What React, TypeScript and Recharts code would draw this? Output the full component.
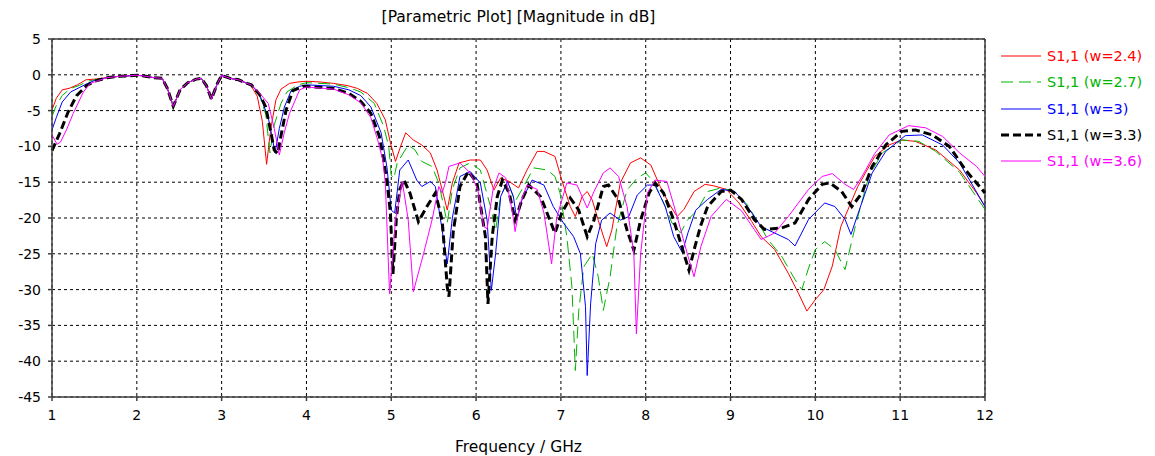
import React from "react";
import { LineChart, Line, XAxis, YAxis, CartesianGrid, ReferenceLine } from "recharts";

type Pt = [number, number];

// frequency (GHz), |S11| (dB)
const startW24: Pt[] = [[1, -4.9], [1.05, -3.3], [1.12, -2.1], [1.2, -1.9], [1.3, -1.4], [1.4, -0.7], [1.5, -0.6]];
const startW27: Pt[] = [[1, -5.8], [1.05, -4.3], [1.12, -2.9], [1.22, -1.9], [1.32, -1.5], [1.42, -0.9], [1.5, -0.7]];
const startW30: Pt[] = [[1, -7.7], [1.05, -6.0], [1.12, -3.8], [1.22, -2.4], [1.32, -1.8], [1.42, -1.2], [1.5, -0.8]];
const startW33: Pt[] = [[1, -10.6], [1.09, -8.2], [1.19, -5.2], [1.29, -2.9], [1.41, -1.5], [1.5, -0.9]];
const startW36: Pt[] = [[1, -8.4], [1.06, -9.7], [1.1, -9.4], [1.17, -7.7], [1.25, -5.4], [1.37, -2.4], [1.45, -1.2], [1.55, -0.8]];

// all five curves overlap here
const common: Pt[] = [
  [1.65, -0.4], [1.8, -0.2], [1.9, -0.15], [2.0, -0.05], [2.1, -0.2], [2.2, -0.4], [2.3, -0.5],
  [2.36, -1.9], [2.43, -4.4], [2.51, -2.1], [2.6, -1.1], [2.7, -0.6], [2.76, -0.5], [2.82, -1.5],
  [2.88, -3.4], [2.95, -1.2], [3.0, -0.1], [3.1, -0.5], [3.2, -0.7], [3.3, -1.2],
];

const tailW24: Pt[] = [
  [3.35, -1.6], [3.42, -3.0], [3.48, -6.5], [3.53, -12.5], [3.58, -7.5], [3.64, -3.5], [3.7, -2.0], [3.8, -1.2], [3.9, -1.0], [4.0, -0.9],
  [4.16, -1.0], [4.32, -1.2], [4.48, -1.5], [4.6, -1.9], [4.72, -2.6], [4.83, -4.0], [4.93, -6.3], [4.99, -9.5], [5.05, -12.1], [5.11, -10.0],
  [5.17, -8.1], [5.26, -9.1], [5.36, -9.8], [5.46, -10.9], [5.54, -13.3], [5.62, -17], [5.66, -18.9], [5.72, -15.1], [5.8, -12.3], [5.93, -11.9],
  [6.05, -11.9], [6.13, -13.3], [6.21, -16.1], [6.29, -14.4], [6.39, -14.9], [6.5, -15.8], [6.6, -13.3], [6.72, -10.7], [6.8, -10.7], [6.93, -11.4],
  [7.01, -14.7], [7.11, -18.4], [7.17, -19.8], [7.25, -17], [7.31, -16.3], [7.37, -17.5], [7.44, -20.3], [7.54, -24], [7.6, -21.7], [7.7, -15.1],
  [7.82, -12.3], [7.94, -11.6], [8.06, -12.6], [8.17, -15.6], [8.27, -17.9], [8.37, -19.8], [8.45, -18.8], [8.57, -16.3], [8.7, -15.3], [8.8, -15.5],
  [8.95, -16], [9.1, -17.9], [9.25, -20.5], [9.36, -22.6], [9.52, -24.4], [9.68, -27.7], [9.8, -30.5], [9.9, -33], [10.0, -31.4], [10.1, -30],
  [10.2, -26.7], [10.3, -21.2], [10.4, -18.4], [10.5, -15.6], [10.7, -11.4], [10.87, -9.8], [11.02, -9.1], [11.18, -9.3], [11.42, -10.5], [11.7, -13.3],
  [11.9, -16.5], [12, -18.4],
];

const tailW27: Pt[] = [
  [3.35, -1.5], [3.45, -3], [3.52, -5.5], [3.57, -10.9], [3.62, -7], [3.7, -4], [3.77, -2.4], [3.9, -1.4], [4.0, -1.1], [4.32, -1.3],
  [4.5, -1.8], [4.64, -2.4], [4.8, -4.0], [4.91, -7.2], [4.97, -10], [5.0, -14], [5.03, -14.5], [5.07, -12.3], [5.2, -9.8], [5.28, -10.5],
  [5.36, -12.1], [5.48, -12.8], [5.56, -15.1], [5.66, -20.7], [5.72, -16], [5.81, -13], [5.93, -12.3], [6.05, -13.3], [6.17, -18.4], [6.23, -21.7],
  [6.29, -17], [6.37, -14.9], [6.46, -17.7], [6.56, -15.6], [6.68, -13], [6.84, -13.3], [6.93, -14.2], [6.99, -16.5], [7.07, -22.6], [7.13, -29.6],
  [7.17, -41.3], [7.21, -33], [7.27, -26.8], [7.37, -25], [7.44, -28.2], [7.5, -32.9], [7.58, -28.2], [7.66, -21.2], [7.78, -16.1], [7.9, -14.4],
  [8.0, -13.7], [8.09, -14.9], [8.21, -17.9], [8.31, -20.7], [8.41, -22.1], [8.49, -20.3], [8.61, -18.9], [8.73, -16.3], [8.89, -15.8], [9.05, -16.3],
  [9.2, -18.2], [9.32, -20.5], [9.44, -23], [9.6, -25.3], [9.76, -28.6], [9.84, -30], [9.92, -27], [10.0, -24.4], [10.11, -23.3], [10.23, -24.4],
  [10.35, -27.2], [10.47, -21.2], [10.63, -14.2], [10.79, -10.9], [11.02, -9.1], [11.22, -9.3], [11.42, -10.7], [11.7, -13.6], [12, -18.8],
];

const tailW30: Pt[] = [
  [3.35, -1.4], [3.45, -2.8], [3.55, -6], [3.6, -9], [3.63, -10.9], [3.68, -7.5], [3.74, -4.5], [3.82, -2.2], [3.92, -1.6], [4.0, -1.4],
  [4.32, -1.6], [4.5, -2.1], [4.64, -2.9], [4.76, -4.5], [4.88, -8.1], [4.95, -13], [5.0, -18.9], [5.04, -19.3], [5.1, -13.3], [5.2, -11.9],
  [5.3, -14.7], [5.36, -15.6], [5.46, -14.9], [5.52, -15.6], [5.6, -21.7], [5.66, -26.4], [5.72, -20], [5.81, -14.2], [5.93, -13.5], [6.05, -15.1],
  [6.13, -20.3], [6.18, -30.1], [6.23, -25], [6.29, -17], [6.37, -14.9], [6.44, -17], [6.48, -20.3], [6.54, -17.5], [6.66, -14.7], [6.8, -15.4],
  [6.91, -18.4], [7.03, -20.7], [7.15, -22.6], [7.23, -25], [7.29, -32.4], [7.31, -42], [7.35, -32], [7.41, -23.6], [7.48, -20.3], [7.58, -19.3],
  [7.7, -20.3], [7.8, -19.8], [7.9, -16.8], [8.02, -15.4], [8.11, -15.4], [8.23, -18.4], [8.33, -22.6], [8.43, -24.8], [8.5, -22], [8.59, -18.9],
  [8.73, -17.4], [8.89, -16], [9.05, -16.3], [9.2, -18.4], [9.36, -21.2], [9.52, -22.1], [9.68, -23], [9.76, -23.9], [9.92, -20.2], [10.11, -17.9],
  [10.23, -18.4], [10.35, -20.2], [10.42, -22.3], [10.5, -19.5], [10.67, -13.7], [10.83, -10.7], [11.06, -8.5], [11.26, -8.4], [11.5, -9.8], [11.7, -12.3],
  [12, -18.4],
];

const tailW33: Pt[] = [
  [3.35, -1.4], [3.45, -2.8], [3.52, -4.5], [3.58, -8], [3.62, -10.5], [3.66, -11], [3.7, -8.5], [3.76, -4.9], [3.84, -2.2], [3.96, -1.6],
  [4.32, -1.9], [4.5, -2.6], [4.64, -3.7], [4.76, -5.4], [4.86, -8.6], [4.91, -11.8], [4.96, -16], [4.99, -19.3], [5.02, -27.8], [5.06, -20],
  [5.1, -16], [5.15, -14.7], [5.22, -16.5], [5.32, -20.5], [5.42, -18.4], [5.52, -16.5], [5.6, -20.3], [5.66, -29.6], [5.68, -31], [5.73, -22],
  [5.81, -15.6], [5.91, -13.5], [6.01, -15.1], [6.11, -22.6], [6.14, -32], [6.19, -22.6], [6.25, -17], [6.31, -14.7], [6.39, -16.5], [6.46, -20.3],
  [6.54, -17.5], [6.62, -15.4], [6.76, -17], [6.87, -20.3], [6.93, -22.1], [7.01, -19.3], [7.11, -17.2], [7.21, -18.9], [7.31, -22.6], [7.39, -20.3],
  [7.5, -15.6], [7.56, -15.4], [7.68, -17.5], [7.78, -21.7], [7.86, -24.5], [7.94, -20.3], [8.04, -16.5], [8.11, -15.1], [8.21, -16.5], [8.33, -20.3],
  [8.45, -25], [8.51, -27.3], [8.58, -24], [8.65, -21], [8.73, -18.4], [8.89, -16.3], [9.0, -16.1], [9.13, -17.4], [9.28, -20.2], [9.4, -21.6],
  [9.6, -21.4], [9.76, -20.7], [9.92, -17.4], [10.08, -15.3], [10.17, -15.1], [10.31, -16.3], [10.43, -18.4], [10.55, -16.5], [10.67, -12.8], [10.83, -9.8],
  [11.02, -7.9], [11.18, -7.7], [11.38, -8.4], [11.58, -10], [11.77, -13.3], [12, -16.5],
];

const tailW36: Pt[] = [
  [3.35, -1.4], [3.45, -2.6], [3.55, -4], [3.62, -7.5], [3.68, -11.2], [3.74, -8], [3.8, -5.4], [3.92, -2.1], [4.0, -1.7], [4.32, -2.0],
  [4.5, -2.8], [4.64, -3.9], [4.76, -6], [4.84, -9.1], [4.9, -11.9], [4.93, -15.1], [4.98, -30.6], [5.05, -20.3], [5.13, -14.9], [5.2, -20.3],
  [5.26, -30.3], [5.38, -25], [5.48, -20.3], [5.56, -15.6], [5.6, -16.5], [5.64, -15], [5.68, -12.8], [5.81, -12.3], [5.93, -13.7], [6.02, -16],
  [6.09, -21.2], [6.13, -21.5], [6.2, -16], [6.27, -13.7], [6.35, -14.4], [6.43, -19.3], [6.46, -21.9], [6.52, -18], [6.6, -15.4], [6.72, -16],
  [6.8, -19.3], [6.89, -26.4], [6.95, -20], [7.07, -15.1], [7.19, -15.4], [7.31, -18.6], [7.39, -16.3], [7.5, -13.7], [7.58, -13], [7.68, -14.2],
  [7.78, -18.4], [7.86, -25], [7.89, -36.2], [7.94, -25], [8.02, -16.5], [8.11, -14.7], [8.25, -14.9], [8.37, -19.8], [8.49, -25], [8.57, -28.2],
  [8.65, -24], [8.77, -19.8], [8.95, -17.4], [9.13, -19], [9.28, -21.6], [9.36, -23], [9.52, -22.1], [9.68, -19.8], [9.92, -16], [10.08, -14.2],
  [10.2, -13.8], [10.35, -15.3], [10.45, -16], [10.55, -14.2], [10.7, -11], [10.87, -8.4], [11.1, -7.1], [11.3, -7.4], [11.5, -8.6], [11.7, -10.9],
  [11.9, -12.8], [12, -14.2],
];

const xTicks = [1, 2, 3, 4, 5, 6, 7, 8, 9, 10, 11, 12];
const yTicks = [5, 0, -5, -10, -15, -20, -25, -30, -35, -40, -45];

const toRows = (...parts: Pt[][]) => parts.flat().map(([f, v]) => ({ f, v }));

const series = [
  { name: "S1,1 (w=2.4)", color: "#ff0000", dash: undefined, width: 1, data: toRows(startW24, common, tailW24) },
  { name: "S1,1 (w=2.7)", color: "#00b400", dash: "12 6", width: 1, data: toRows(startW27, common, tailW27) },
  { name: "S1,1 (w=3)", color: "#0000ff", dash: undefined, width: 1, data: toRows(startW30, common, tailW30) },
  { name: "S1,1 (w=3.3)", color: "#000000", dash: "8 4", width: 3, data: toRows(startW33, common, tailW33) },
  { name: "S1,1 (w=3.6)", color: "#ff00ff", dash: undefined, width: 1, data: toRows(startW36, common, tailW36) },
];

const font = "Tahoma, 'DejaVu Sans', sans-serif";

export default function App() {
  return (
    <div style={{ position: "absolute", left: 0, top: 0, width: 1155, height: 456, background: "#fff" }}>
      <div style={{ position: "absolute", left: 52, width: 933, top: 8, textAlign: "center", fontFamily: font, fontSize: 15.5, color: "#000" }}>
        [Parametric Plot] [Magnitude in dB]
      </div>
      {/* legend, drawn by hand to the right of the plot */}
      <div style={{ position: "absolute", left: 999, top: 43, fontFamily: font, fontSize: 14.5 }}>
        {series.map((s) => (
          <div key={s.name} style={{ display: "flex", alignItems: "center", height: 26.3 }}>
            <svg width={46} height={8}>
              <line x1={2} y1={4} x2={42} y2={4} stroke={s.color} strokeWidth={s.width} strokeDasharray={s.dash} />
            </svg>
            <span style={{ color: s.color, marginLeft: 2 }}>{s.name}</span>
          </div>
        ))}
      </div>
      <LineChart width={1155} height={456} margin={{ top: 39, right: 170, bottom: 0, left: 0 }}>
        <CartesianGrid stroke="#000" strokeDasharray="3 3" horizontalValues={yTicks} verticalValues={xTicks} />
        <XAxis
          dataKey="f"
          type="number"
          domain={[1, 12]}
          ticks={xTicks}
          allowDuplicatedCategory={false}
          height={59}
          stroke="#404040"
          strokeWidth={1.5}
          tickSize={4}
          tickMargin={9}
          tick={{ fill: "#000", fontSize: 14, fontFamily: font }}
          label={{ value: "Frequency / GHz", position: "insideBottom", offset: 4, fill: "#000", fontSize: 15.5, fontFamily: font }}
        />
        <YAxis
          dataKey="v"
          type="number"
          domain={[-45, 5]}
          ticks={yTicks}
          width={52}
          stroke="#404040"
          strokeWidth={1.5}
          tickSize={4}
          tickMargin={7}
          tick={{ fill: "#000", fontSize: 14, fontFamily: font }}
        />
        <ReferenceLine y={5} stroke="#404040" strokeWidth={1.5} />
        <ReferenceLine x={12} stroke="#404040" strokeWidth={1.5} />
        {series.map((s) => (
          <Line
            key={s.name}
            data={s.data}
            dataKey="v"
            name={s.name}
            type="linear"
            stroke={s.color}
            strokeWidth={s.width}
            strokeDasharray={s.dash}
            dot={false}
            activeDot={false}
            isAnimationActive={false}
          />
        ))}
      </LineChart>
    </div>
  );
}
